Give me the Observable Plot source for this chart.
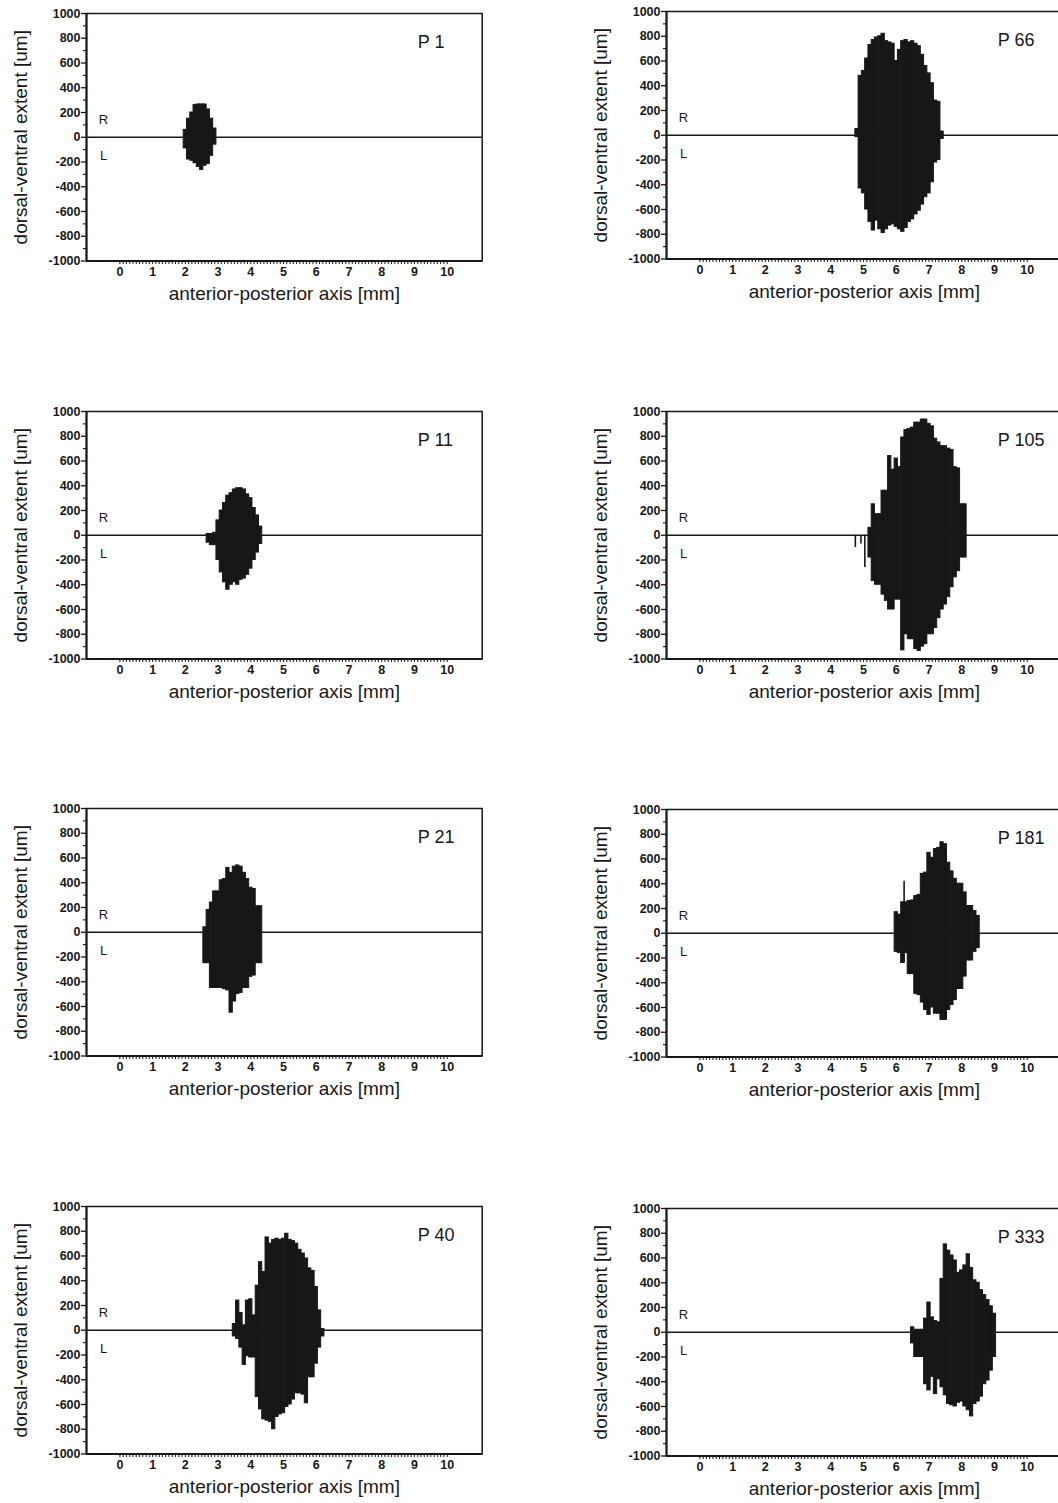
<!DOCTYPE html>
<html>
<head>
<meta charset="utf-8">
<script src="https://cdn.jsdelivr.net/npm/d3@7"></script>
<script src="https://cdn.jsdelivr.net/npm/@observablehq/plot@0.6"></script>
<style>
  html, body { margin: 0; padding: 0; background: #fff; overflow: hidden; }
  #wrap { position: relative; width: 1058px; height: 1503px; overflow: hidden; }
  .panel { position: absolute; width: 500px; }
  .panel svg { max-width: none !important; }
</style>
</head>
<body>
<div id="wrap"></div>
<script>
// ---- data ----
const panelLabels = ["P 1", "P 11", "P 21", "P 40", "P 66", "P 105", "P 181", "P 333"];
// first bin centre (mm) of each profile; bins are 0.1 mm wide
const binStarts = [2.0, 2.7, 2.6, 3.5, 4.8, 5.2, 6.0, 6.5];

const p1Hi = [60,150,200,260,265,265,265,225,150,70];
const p1Lo = [-90,-180,-190,-210,-240,-265,-230,-215,-150,-60];

const p11Hi = [10,10,20,120,200,260,320,340,370,380,380,370,330,300,220,160,70];
const p11Lo = [-60,-80,-80,-200,-300,-380,-440,-400,-380,-400,-360,-350,-320,-270,-200,-140,-70];

const p21Hi = [40,180,240,330,330,420,430,520,480,530,540,530,480,430,360,350,210,210];
const p21Lo = [-250,-250,-450,-450,-450,-450,-460,-470,-650,-560,-500,-490,-450,-450,-360,-350,-250,-250];

const p40Hi = [50,240,140,40,240,250,120,360,550,470,750,700,730,740,730,740,780,730,720,700,650,620,580,500,480,350,160,10];
const p40Lo = [-50,-70,-140,-280,-210,-220,-220,-540,-640,-720,-730,-740,-800,-700,-680,-670,-620,-600,-560,-510,-510,-520,-590,-380,-380,-270,-140,-50];

const p66Hi = [50,480,520,620,730,770,790,800,820,760,750,740,600,690,760,770,750,760,740,720,650,560,500,420,280,270,30];
const p66Lo = [-15,-430,-470,-600,-700,-770,-690,-760,-790,-760,-730,-720,-740,-760,-780,-750,-700,-680,-640,-610,-560,-500,-470,-380,-220,-200,-30];

const p105Hi = [60,250,170,170,360,360,640,530,620,550,790,850,860,870,910,910,935,935,900,880,780,750,720,720,700,690,550,540,250,250];
const p105Lo = [-180,-370,-400,-400,-480,-530,-600,-600,-520,-520,-930,-800,-840,-840,-920,-935,-900,-880,-800,-800,-750,-670,-600,-560,-500,-420,-340,-290,-180,-180];

const p181Hi = [170,150,250,250,260,265,300,310,480,490,650,610,680,690,735,720,570,500,440,400,400,330,220,220,180,140];
const p181Lo = [-150,-160,-240,-160,-330,-330,-490,-500,-560,-620,-660,-600,-650,-650,-700,-700,-620,-580,-540,-450,-450,-350,-220,-220,-150,-120];

const p333Hi = [40,20,20,20,110,240,120,90,80,430,710,660,620,580,480,500,540,630,520,420,400,340,300,260,210,150];
const p333Lo = [-90,-200,-200,-200,-420,-470,-360,-500,-380,-445,-510,-580,-590,-600,-570,-560,-600,-630,-680,-580,-560,-520,-420,-390,-310,-200];

// thin isolated spikes: panel index, position (mm), lower and upper extent
const spikePanel = [5, 5, 5, 6];
const spikeX     = [4.75, 4.92, 5.04, 6.24];
const spikeLo    = [-100, -70, -260, -240];
const spikeHi    = [0, 0, 0, 420];

const yMajorTicks = [-1000,-800,-600,-400,-200,0,200,400,600,800,1000];
const yMinorTicks = [-900,-700,-500,-300,-100,100,300,500,700,900];
const xMajorTicks = [0,1,2,3,4,5,6,7,8,9,10];
const xMinorTicks = d3.range(0, 101).map(i => i / 10);

const sideLabels = ["R", "L"];
const sideLabelY = [140, -150];

const xLabel = "anterior-posterior axis [mm]";
const yLabel = "dorsal-ventral extent [um]";

const his = [p1Hi, p11Hi, p21Hi, p40Hi, p66Hi, p105Hi, p181Hi, p333Hi];
const los = [p1Lo, p11Lo, p21Lo, p40Lo, p66Lo, p105Lo, p181Lo, p333Lo];

// ---- layout ----
const lefts = [0, 0, 0, 0, 580, 580, 580, 580];
const tops  = [2.95, 401.25, 797.5, 1196.25, 1.25, 400.5, 799, 1198];
const ink = "#171717";
const font = "'Liberation Sans', Arial, Helvetica, sans-serif";

const wrap = document.getElementById("wrap");

panelLabels.forEach((lab, i) => {
  const bars = his[i].map((h, j) => ({x: binStarts[i] + j * 0.1, hi: h, lo: los[i][j]}));
  const spikes = spikeX.map((x, k) => ({p: spikePanel[k], x, y1: spikeLo[k], y2: spikeHi[k]})).filter(d => d.p === i);
  const chart = Plot.plot({
    width: 500,
    height: 307.5,
    marginLeft: 86,
    marginRight: 18.3,
    marginTop: 10,
    marginBottom: 50,
    x: {domain: [-1.02, 11.07], label: null},
    y: {domain: [-1000, 1000], label: null},
    style: {fontFamily: font, color: ink, background: "transparent", overflow: "visible", maxWidth: "none"},
    marks: [
      Plot.ruleY([0], {stroke: ink, strokeWidth: 1.6}),
      Plot.rect(bars, {
        x1: d => d.x - 0.05, x2: d => d.x + 0.05, y1: "lo", y2: "hi",
        fill: ink, stroke: ink, strokeWidth: 1
      }),
      Plot.ruleX(spikes, {x: "x", y1: "y1", y2: "y2", stroke: ink, strokeWidth: 1.6}),
      Plot.frame({stroke: ink, strokeWidth: 1.5}),
      Plot.ruleX([-1.02], {stroke: ink, strokeWidth: 2}),
      Plot.ruleY([-1000], {stroke: ink, strokeWidth: 2}),
      Plot.axisY(yMajorTicks, {tickSize: 5, tickPadding: 1, fontSize: 12.5, fontWeight: "bold", tickFormat: d => String(d), strokeWidth: 1.3}),
      Plot.axisY(yMinorTicks, {tickSize: 3, tickFormat: () => "", strokeWidth: 1.1}),
      Plot.axisX(xMinorTicks, {tickSize: 3.5, tickFormat: () => "", strokeWidth: 1}),
      Plot.axisX(xMajorTicks, {tickSize: 0, tickPadding: 6, fontSize: 12.5, fontWeight: "bold"}),
      Plot.text(sideLabels, {x: () => -0.5, y: (d, k) => sideLabelY[k], fontSize: 13, fill: ink}),
      Plot.text([lab], {x: () => 9.1, y: () => 770, textAnchor: "start", fontSize: 18, fill: ink}),
      Plot.text([xLabel], {frameAnchor: "bottom", dy: 33, lineAnchor: "middle", textAnchor: "middle", fontSize: 19, fill: ink}),
      Plot.text([yLabel], {frameAnchor: "left", dx: -66, rotate: -90, lineAnchor: "middle", textAnchor: "middle", fontSize: 19, fill: ink})
    ]
  });
  const div = document.createElement("div");
  div.className = "panel";
  div.style.left = lefts[i] + "px";
  div.style.top = tops[i] + "px";
  div.appendChild(chart);
  wrap.appendChild(div);
});
</script>
</body>
</html>
